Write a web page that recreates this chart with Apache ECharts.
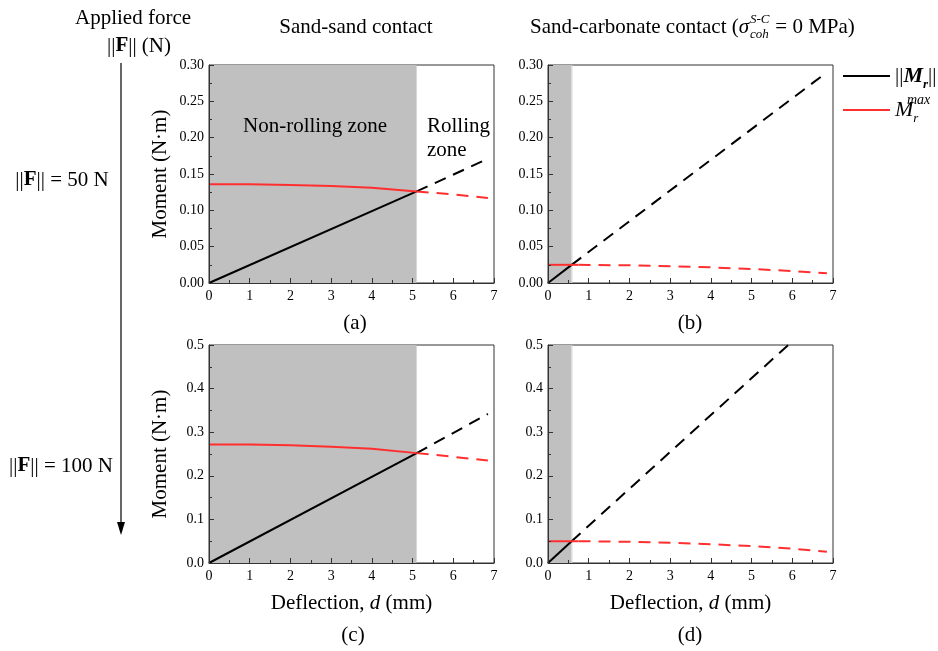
<!DOCTYPE html>
<html>
<head>
<meta charset="utf-8">
<script src="https://cdn.jsdelivr.net/npm/echarts@6/dist/echarts.min.js"></script>
<style>
  html, body { margin: 0; padding: 0; background: #fff; }
  #chart { width: 938px; height: 651px; }
</style>
</head>
<body>
<div id="chart"></div>
<script>
  // deflection d (mm) -> moment (N·m)
  var xTicks = [0, 1, 2, 3, 4, 5, 6, 7]
  var zoneSand = [0, 5.1]       // non-rolling zone, sand-sand
  var zoneCarb = [0, 0.57]      // non-rolling zone, sand-carbonate
  var zoneCarbEdge = [0.57, 0.6]

  // (a) sand-sand, F = 50 N
  var mrA = [[0, 0], [5.1, 0.126]]
  var mrDashA = [[5.1, 0.126], [6.85, 0.171]]
  var mmaxA = [[0, 0.136], [1, 0.1358], [2, 0.1349], [3, 0.1334], [4, 0.131], [5.1, 0.126]]
  var mmaxDashA = [[5.1, 0.126], [6, 0.1218], [6.85, 0.117]]

  // (b) sand-carbonate, F = 50 N
  var mrB = [[0, 0], [0.58, 0.025]]
  var mrDashB = [[0.58, 0.025], [6.85, 0.29]]
  var mmaxB = [[0, 0.025], [0.75, 0.025]]
  var mmaxDashB = [[0.75, 0.025], [1, 0.0249], [2, 0.0243], [3, 0.0232], [4, 0.0215], [5, 0.0193], [6, 0.0165], [6.85, 0.0133]]

  // (c) sand-sand, F = 100 N
  var mrC = [[0, 0], [5.1, 0.252]]
  var mrDashC = [[5.1, 0.252], [6.85, 0.342]]
  var mmaxC = [[0, 0.272], [1, 0.2716], [2, 0.2698], [3, 0.2668], [4, 0.262], [5.1, 0.252]]
  var mmaxDashC = [[5.1, 0.252], [6, 0.2436], [6.85, 0.235]]

  // (d) sand-carbonate, F = 100 N
  var mrD = [[0, 0], [0.58, 0.05]]
  var mrDashD = [[0.58, 0.05], [5.9, 0.5]]
  var mmaxD = [[0, 0.05], [0.75, 0.0499]]
  var mmaxDashD = [[0.75, 0.0499], [1, 0.0497], [2, 0.0486], [3, 0.0464], [4, 0.043], [5, 0.0386], [6, 0.033], [6.85, 0.026]]

  var yMax = [0.3, 0.3, 0.5, 0.5]
  var yStep = [0.05, 0.05, 0.1, 0.1]
  var yDigits = [2, 2, 1, 1]

  var font = 'Liberation Serif'
  var red = '#ff2f2f'
  var axisColor = '#333'

  var grids = [
    {left: 209, top: 65, width: 285, height: 218},
    {left: 548, top: 65, width: 285, height: 218},
    {left: 209, top: 345, width: 285, height: 218},
    {left: 548, top: 345, width: 285, height: 218}
  ]

  function line(name, data, gi, color, dashed) {
    return {
      name: name,
      type: 'line',
      xAxisIndex: gi,
      yAxisIndex: gi,
      data: data,
      showSymbol: false,
      symbol: 'none',
      lineStyle: {color: color, width: 2, type: dashed ? [12, 8] : 'solid'},
      itemStyle: {color: color},
      z: 3
    }
  }

  function zone(range, gi, color) {
    return {
      type: 'line',
      xAxisIndex: gi,
      yAxisIndex: gi,
      data: [[range[0], 0], [range[1], 0]],
      symbol: 'none',
      lineStyle: {opacity: 0},
      z: -1,
      silent: true,
      markArea: {
        silent: true,
        itemStyle: {color: color},
        data: [[{xAxis: range[0]}, {xAxis: range[1]}]]
      }
    }
  }

  var xAxes = grids.map(function (g, i) {
    var ax = {
      type: 'value',
      gridIndex: i,
      z: 10,
      min: xTicks[0],
      max: xTicks[xTicks.length - 1],
      interval: 1,
      axisLine: {lineStyle: {color: axisColor, width: 1}},
      axisTick: {inside: true, length: 5, lineStyle: {color: axisColor}},
      minorTick: {show: true, splitNumber: 2, length: 3, lineStyle: {color: axisColor}},
      splitLine: {show: false},
      axisLabel: {fontFamily: font, fontSize: 14, color: '#000', margin: 6}
    }
    if (i >= 2) {
      ax.name = 'Deflection, {i|d} (mm)'
      ax.nameLocation = 'middle'
      ax.nameGap = 30
      ax.nameTextStyle = {
        fontFamily: font, fontSize: 21, color: '#000',
        rich: {i: {fontFamily: font, fontSize: 21, fontStyle: 'italic', color: '#000'}}
      }
    }
    return ax
  })

  var yAxes = grids.map(function (g, i) {
    var ax = {
      type: 'value',
      gridIndex: i,
      z: 10,
      min: 0,
      max: yMax[i],
      interval: yStep[i],
      axisLine: {show: true, lineStyle: {color: axisColor, width: 1}},
      axisTick: {show: true, inside: true, length: 5, lineStyle: {color: axisColor}},
      minorTick: {show: true, splitNumber: 2, length: 3, lineStyle: {color: axisColor}},
      splitLine: {show: false},
      axisLabel: {
        fontFamily: font, fontSize: 14, color: '#000', margin: 5,
        formatter: function (v) { return v.toFixed(yDigits[i]) }
      }
    }
    if (i % 2 === 0) {
      ax.name = 'Moment (N·m)'
      ax.nameLocation = 'middle'
      ax.nameGap = 38
      ax.nameTextStyle = {fontFamily: font, fontSize: 21, color: '#000'}
    }
    return ax
  })

  var series = [
    zone(zoneSand, 0, '#c0c0c0'),
    zone(zoneCarb, 1, '#c0c0c0'),
    zone(zoneCarbEdge, 1, '#d4d4d4'),
    zone(zoneSand, 2, '#c0c0c0'),
    zone(zoneCarb, 3, '#c0c0c0'),
    zone(zoneCarbEdge, 3, '#d4d4d4'),

    line('Mr', mrA, 0, '#000', false),
    line('Mr', mrDashA, 0, '#000', true),
    line('Mrmax', mmaxA, 0, red, false),
    line('Mrmax', mmaxDashA, 0, red, true),

    line('Mr', mrB, 1, '#000', false),
    line('Mr', mrDashB, 1, '#000', true),
    line('Mrmax', mmaxB, 1, red, false),
    line('Mrmax', mmaxDashB, 1, red, true),

    line('Mr', mrC, 2, '#000', false),
    line('Mr', mrDashC, 2, '#000', true),
    line('Mrmax', mmaxC, 2, red, false),
    line('Mrmax', mmaxDashC, 2, red, true),

    line('Mr', mrD, 3, '#000', false),
    line('Mr', mrDashD, 3, '#000', true),
    line('Mrmax', mmaxD, 3, red, false),
    line('Mrmax', mmaxDashD, 3, red, true)
  ]

  function txt(x, y, text, opts) {
    opts = opts || {}
    return {
      type: 'text',
      x: x,
      y: y,
      z: 100,
      silent: true,
      style: {
        text: text,
        fontFamily: font,
        fontSize: opts.size || 21,
        fontStyle: opts.italic ? 'italic' : 'normal',
        fontWeight: opts.bold ? 'bold' : 'normal',
        fill: '#000',
        align: opts.align || 'center',
        verticalAlign: 'middle',
        rich: opts.rich
      }
    }
  }

  var normRich = {
    n: {fontFamily: font, fontSize: 21, color: '#000'},
    b: {fontFamily: font, fontSize: 21, fontWeight: 'bold', color: '#000'},
    t: {fontFamily: font, fontSize: 21, color: '#000'},
    i: {fontFamily: font, fontSize: 21, fontStyle: 'italic', color: '#000'},
    gap: {width: 21}
  }

  var graphics = [
    txt(133, 18, 'Applied force'),
    txt(139, 46, '{n|||}{b|F}{n||| (N)}', {rich: normRich}),
    txt(62, 180, '{n|||}{b|F}{n||| = 50 N}', {rich: normRich}),
    txt(61, 466, '{n|||}{b|F}{n||| = 100 N}', {rich: normRich}),
    {
      type: 'line', silent: true, z: 100,
      shape: {x1: 121, y1: 63, x2: 121, y2: 526},
      style: {stroke: '#000', lineWidth: 1.2}
    },
    {
      type: 'polygon', silent: true, z: 100,
      shape: {points: [[117, 522], [125, 522], [121, 535]]},
      style: {fill: '#000'}
    },
    txt(356, 27, 'Sand-sand contact'),
    txt(530, 27, '{t|Sand-carbonate contact (}{i|σ}{gap| }{t| = 0 MPa)}', {rich: normRich, align: 'left'}),
    txt(750, 20, 'S-C', {size: 13, italic: true, align: 'left'}),
    txt(750, 35, 'coh', {size: 13, italic: true, align: 'left'}),
    txt(315, 126, 'Non-rolling zone'),
    txt(427, 126, 'Rolling', {align: 'left'}),
    txt(427, 150, 'zone', {align: 'left'}),
    txt(355, 323, '(a)'),
    txt(690, 323, '(b)'),
    txt(353, 635, '(c)'),
    txt(690, 635, '(d)'),
    txt(907, 100, 'max', {size: 14, italic: true, align: 'left'})
  ]

  var chart = echarts.init(document.getElementById('chart'), null, {renderer: 'canvas'})
  chart.setOption({
    animation: false,
    backgroundColor: '#fff',
    grid: grids.map(function (g) {
      return {left: g.left, top: g.top, width: g.width, height: g.height,
        show: true, borderColor: axisColor, borderWidth: 1, backgroundColor: 'transparent'}
    }),
    xAxis: xAxes,
    yAxis: yAxes,
    legend: {
      orient: 'vertical',
      left: 838,
      top: 60,
      itemWidth: 47,
      itemHeight: 2,
      itemGap: 8,
      icon: 'rect',
      selectedMode: false,
      data: ['Mr', 'Mrmax'],
      formatter: function (name) {
        return name === 'Mr' ? '{n|||}{bi|M}{bs|r}{n|||}' : '{i|M}{is|r}'
      },
      textStyle: {
        fontFamily: font,
        rich: {
          n: {fontFamily: font, fontSize: 21, lineHeight: 30, color: '#000'},
          bi: {fontFamily: font, fontSize: 22, fontWeight: 'bold', fontStyle: 'italic', lineHeight: 30, color: '#000'},
          bs: {fontFamily: font, fontSize: 13, fontWeight: 'bold', fontStyle: 'italic', lineHeight: 13, verticalAlign: 'bottom', color: '#000'},
          i: {fontFamily: font, fontSize: 22, fontStyle: 'italic', lineHeight: 30, color: '#000'},
          is: {fontFamily: font, fontSize: 13, fontStyle: 'italic', lineHeight: 13, verticalAlign: 'bottom', color: '#000'}
        }
      }
    },
    graphic: graphics,
    series: series
  })
</script>
</body>
</html>
